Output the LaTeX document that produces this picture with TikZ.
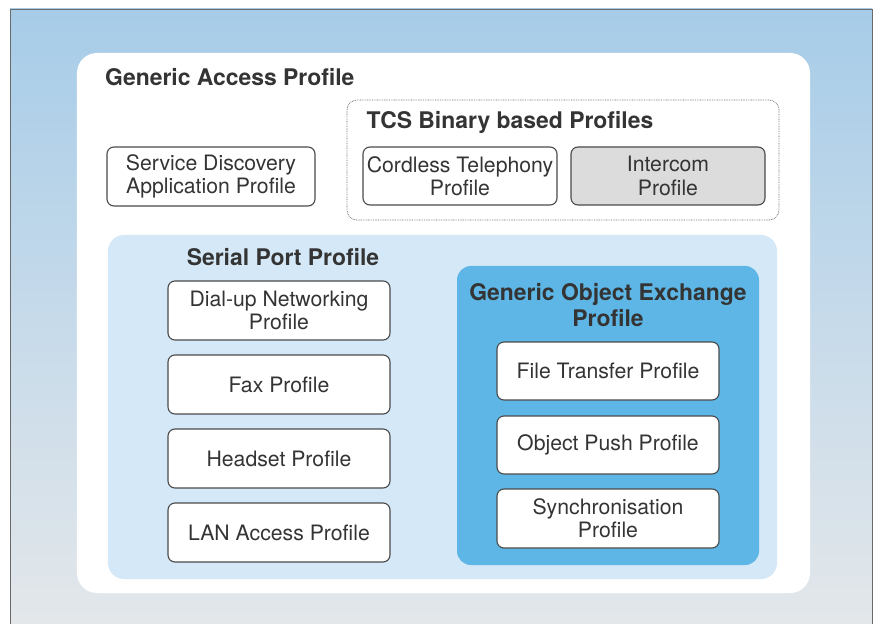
\documentclass[tikz,border=0pt]{standalone}
\usepackage{fontspec}
\setmainfont{TeX Gyre Heros}
\definecolor{bgtop}{HTML}{A7CCE8}
\definecolor{bgmid}{HTML}{C6DAEA}
\definecolor{bgbot}{HTML}{E3E7EA}
\definecolor{panel}{HTML}{D4E8F7}
\definecolor{goep}{HTML}{5DB6E6}
\definecolor{grayfill}{HTML}{DCDCDC}
\definecolor{boxline}{HTML}{4A4A4A}
\definecolor{txt}{HTML}{343434}
\definecolor{frameline}{HTML}{6A6A6A}
\tikzset{
  pbox/.style={draw=boxline, line width=1.1bp, fill=white, rounded corners=7bp,
    text=txt, align=center, inner sep=0pt,
    font=\fontsize{21.3}{23.5}\selectfont},
  ttl/.style={text=txt, align=center, inner sep=0pt,
    font=\fontsize{23}{26}\selectfont\bfseries},
}
\begin{document}
\begin{tikzpicture}[x=1bp,y=-1bp]
\useasboundingbox (0,0) rectangle (878,624);
% background
\shade[top color=bgtop, bottom color=bgbot, middle color=bgmid] (10,9) rectangle (872,624);
\draw[frameline, line width=0.8bp] (10,624) -- (10,9) -- (872,9) -- (872,624);
% Generic Access Profile
\node[fill=white, rounded corners=20bp, minimum width=733bp, minimum height=540bp, inner sep=0pt] (gap) at (443.5,323) {};
\node[ttl, anchor=west] (gapt) at (105,77) {Generic Access Profile};
\node[pbox, minimum width=208bp, minimum height=59bp] (sdap) at (211,176.5) {Service Discovery\\Application Profile};
% TCS
\node[draw=boxline!80, line width=0.7bp, dash pattern=on 0.8bp off 0.9bp, rounded corners=10bp, minimum width=432bp, minimum height=120bp, inner sep=0pt] (tcs) at (563,160) {};
\node[ttl] (tcst) at (510,122) {TCS Binary based Profiles};
\node[pbox, minimum width=194bp, minimum height=58bp] (ctp) at (460,176) {Cordless Telephony\\Profile};
\node[pbox, fill=grayfill, minimum width=194bp, minimum height=58bp] (icp) at (668,176) {Intercom\\Profile};
% Serial Port Profile
\node[fill=panel, rounded corners=16bp, minimum width=669bp, minimum height=344bp, inner sep=0pt] (spp) at (442.5,407) {};
\node[ttl] (sppt) at (283,257) {Serial Port Profile};
\node[pbox, minimum width=222bp, minimum height=59bp] (dun) at (279,310.5) {Dial-up Networking\\Profile};
\node[pbox, minimum width=222bp, minimum height=59bp] (fax) at (279,384.5) {Fax Profile};
\node[pbox, minimum width=222bp, minimum height=59bp] (hsp) at (279,458.5) {Headset Profile};
\node[pbox, minimum width=222bp, minimum height=59bp] (lan) at (279,532.5) {LAN Access Profile};
% GOEP
\node[fill=goep, rounded corners=14bp, minimum width=302bp, minimum height=299bp, inner sep=0pt] (goep) at (608,415.5) {};
\node[ttl] (goept) at (608,305) {Generic Object Exchange\\Profile};
\node[pbox, minimum width=222bp, minimum height=58bp] (ftp) at (608,371) {File Transfer Profile};
\node[pbox, minimum width=222bp, minimum height=58bp] (opp) at (608,445) {Object Push Profile};
\node[pbox, minimum width=222bp, minimum height=59bp] (sync) at (608,518.5) {Synchronisation\\Profile};
\end{tikzpicture}
\end{document}
